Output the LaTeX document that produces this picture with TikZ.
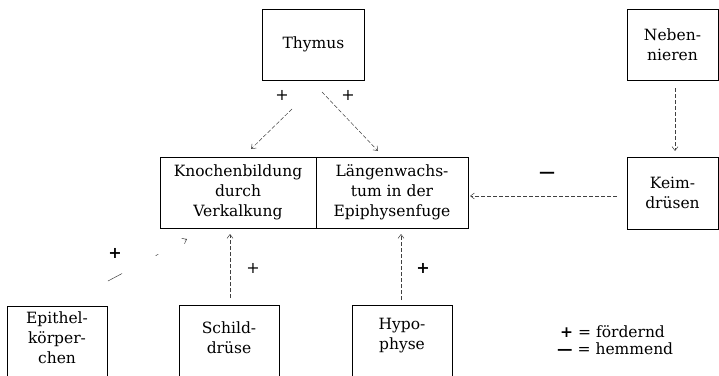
\documentclass[tikz,border=0pt]{standalone}
\usepackage{fontspec}
\setmainfont{DejaVu Serif}
\usetikzlibrary{arrows.meta}
\tikzset{
  box/.style={draw, line width=0.9pt, inner sep=0pt, align=center},
  lbl/.style={inner sep=0pt, align=center},
  conn/.style={draw=black!75, line width=0.5pt, dash pattern=on 4pt off 2pt,
    -{Straight Barb[length=4pt,width=6pt]}},
  sign/.style={inner sep=0pt, font=\fontsize{16}{16}\selectfont}
}
\begin{document}
\begin{tikzpicture}[x=1pt,y=-1pt,
  font=\fontsize{15.5}{20}\selectfont]
\useasboundingbox (0,0) rectangle (719,375);
\clip (0,0) rectangle (719,375);
% top boxes
\node[box, minimum width=102pt, minimum height=71pt] (thy) at (313.5,44.5) {Thymus};
\node[box, minimum width=91pt, minimum height=71pt] (neb) at (672.5,44.5) {Neben-\\nieren};
\node[box, minimum width=91pt, minimum height=72pt] (keim) at (672.5,193) {Keim-\\drüsen};
% middle box
\node[box, minimum width=156pt, minimum height=71pt] (kno) at (238,192.5) {Knochenbildung\\durch\\Verkalkung};
\node[box, minimum width=152pt, minimum height=71pt] (lae) at (392,192.5) {Längenwachs-\\tum in der\\Epiphysenfuge};
% bottom boxes (cut at lower edge)
\draw[line width=0.9pt] (7,306) rectangle (107,400);
\draw[line width=0.9pt] (179,305) rectangle (279,400);
\draw[line width=0.9pt] (352,305) rectangle (452,400);
\node[lbl] (epi) at (57,338) {Epithel-\\körper-\\chen};
\node[lbl] (sch) at (229,338) {Schild-\\drüse};
\node[lbl] (hyp) at (402,336) {Hypo-\\physe};
% connector end points
\coordinate (t1a) at (292,109); \coordinate (t1b) at (251,149);
\coordinate (t2a) at (322,92);  \coordinate (t2b) at (378,151);
\coordinate (kla) at (617,196); \coordinate (klb) at (470,196);
\coordinate (nka) at (675,88);  \coordinate (nkb) at (675,151);
\coordinate (eka) at (108,281); \coordinate (ekb) at (187,239);
\coordinate (ska) at (230,298); \coordinate (skb) at (230,234);
\coordinate (hla) at (401,300); \coordinate (hlb) at (401,234);
\draw[conn] (t1a) -- (t1b);
\draw[conn] (t2a) -- (t2b);
\draw[conn] (kla) -- (klb);
\draw[conn] (nka) -- (nkb);
\draw[conn, dash pattern=on 16pt off 38pt on 3pt off 30pt] (eka) -- (ekb);
\draw[conn] (ska) -- (skb);
\draw[conn] (hla) -- (hlb);
% signs
\node[sign] (p1) at (282,95) {+};
\node[sign] (p2) at (348,95) {+};
\node[sign] (m1) at (547,175) {\textbf{—}};
\node[sign] (p3) at (115,253) {\textbf{+}};
\node[sign] (p4) at (253,268) {+};
\node[sign] (p5) at (423,268) {\textbf{+}};
% legend
\node[lbl, anchor=west] (leg1) at (560,332) {\textbf{+} = fördernd};
\node[lbl, anchor=west] (leg2) at (557,349) {\textbf{—} = hemmend};
\end{tikzpicture}
\end{document}
